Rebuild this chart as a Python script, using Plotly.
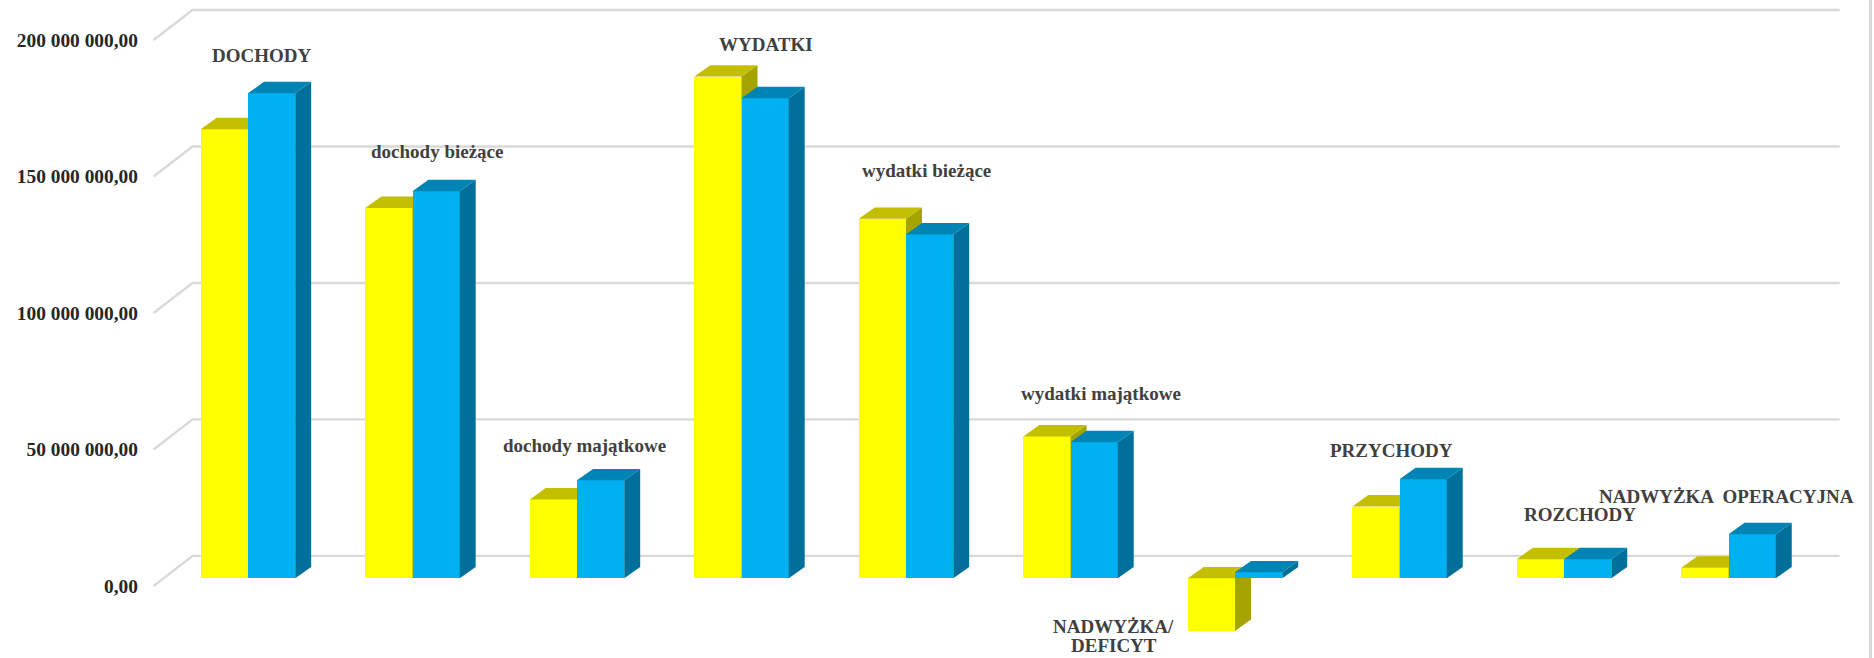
import plotly.graph_objects as go

categories = ["DOCHODY", "dochody bieżące", "dochody majątkowe", "WYDATKI", "wydatki bieżące",
              "wydatki majątkowe", "NADWYŻKA/<br>DEFICYT", "PRZYCHODY", "ROZCHODY", "NADWYŻKA  OPERACYJNA"]
plan = [164.5e6, 135.7e6, 28.9e6, 183.8e6, 131.7e6, 52.0e6, -19.3e6, 26.3e6, 7.0e6, 3.9e6]
wykonanie = [177.7e6, 141.8e6, 35.9e6, 175.9e6, 126.0e6, 49.9e6, 2.2e6, 36.3e6, 7.0e6, 16.2e6]
tick_values = [0, 50e6, 100e6, 150e6, 200e6]
tick_labels = ["0,00", "50 000 000,00", "100 000 000,00", "150 000 000,00", "200 000 000,00"]

label_x = [0.087, 1.147, 2.047, 3.151, 4.123, 5.184, 5.263, 6.951, 8.098, 8.988]
label_y = [194.5e6, 159.1e6, 51.4e6, 198.5e6, 152.1e6, 70.6e6, -15.0e6, 49.6e6, 26.0e6, 32.6e6]
LINE_STEP = 6.8e6
LABEL_SIZE = 19

BAR_W = 0.287
BAR_DX, BAR_DY = 0.097, 4.2e6
BAR_LIFT = 2.78e6
WALL_X0, WALL_X1, WALL_RIGHT = -0.574, -0.337, 9.675
WALL_DY = 11e6
X_RANGE = [-0.620, 9.884]
Y_RANGE = [-26.4e6, 214.65e6]
MARGIN_L = 146
TEXT = "#404040"
FONT = "Liberation Serif"


def polygons(items):
    xs, ys = [], []
    for poly in items:
        xs += [p[0] for p in poly] + [poly[0][0], None]
        ys += [p[1] for p in poly] + [poly[0][1], None]
    return xs, ys


def faces(values, offset):
    tops, sides = [], []
    for i, v in enumerate(values):
        x0 = i + offset
        x1 = x0 + BAR_W
        base = BAR_LIFT
        top = base + max(v, 0)
        low = base + min(v, 0)
        tops.append([(x0, top), (x1, top), (x1 + BAR_DX, top + BAR_DY), (x0 + BAR_DX, top + BAR_DY)])
        sides.append([(x1, low), (x1 + BAR_DX, low + BAR_DY), (x1 + BAR_DX, top + BAR_DY), (x1, top)])
    return tops, sides


def poly_trace(items, color, xa, ya):
    xs, ys = polygons(items)
    return go.Scatter(x=xs, y=ys, mode="lines", fill="toself", fillcolor=color,
                      line=dict(width=0, color=color), hoverinfo="skip", showlegend=False,
                      xaxis=xa, yaxis=ya)


fig = go.Figure()

grid_x, grid_y = [], []
for t in tick_values:
    grid_x += [WALL_X0, WALL_X1, WALL_RIGHT, None]
    grid_y += [t, t + WALL_DY, t + WALL_DY, None]
fig.add_trace(go.Scatter(x=grid_x, y=grid_y, mode="lines", line=dict(color="#D9D9D9", width=2.4),
                         hoverinfo="skip", showlegend=False))

series = [
    (plan, -BAR_W, "#FFFF00", "#C4BE00", "#A5A300", "x2", "y2"),
    (wykonanie, 0, "#00B0F0", "#0084B4", "#00709A", "x3", "y3"),
]
for values, offset, front, top_c, side_c, xa, ya in series:
    tops, sides = faces(values, offset)
    fig.add_trace(go.Bar(x=list(range(len(values))), y=values, base=BAR_LIFT, width=BAR_W, offset=offset,
                         marker=dict(color=front, line=dict(width=0)), showlegend=False,
                         xaxis=xa, yaxis=ya))
    fig.add_trace(poly_trace(sides, side_c, xa, ya))
    fig.add_trace(poly_trace(tops, top_c, xa, ya))

for name, x, y in zip(categories, label_x, label_y):
    for n, line in enumerate(name.split("<br>")):
        fig.add_annotation(x=x, y=y - n * LINE_STEP, text=f"<b>{line}</b>", showarrow=False, xref="x3", yref="y3",
                           font=dict(family=FONT, size=LABEL_SIZE, color=TEXT), align="center")

fig.add_shape(type="line", xref="paper", yref="paper", x0=0.998, x1=0.998, y0=0, y1=1,
              line=dict(color="#D9D9D9", width=3))

hidden = dict(visible=False, range=X_RANGE, fixedrange=True)
hidden_y = dict(visible=False, range=Y_RANGE, fixedrange=True)
fig.update_layout(
    width=1874, height=658, margin=dict(l=MARGIN_L, r=0, t=0, b=0, pad=0),
    paper_bgcolor="white", plot_bgcolor="white", bargap=0, showlegend=False,
    xaxis=dict(visible=False, range=X_RANGE, fixedrange=True),
    yaxis=dict(range=Y_RANGE, tickvals=tick_values, ticktext=tick_labels, showgrid=False, zeroline=False,
               showline=False, ticks="", fixedrange=True, ticklabelstandoff=7,
               tickfont=dict(family=FONT, size=19.4, color="#262626", weight="bold")),
    xaxis2=dict(hidden, overlaying="x"), yaxis2=dict(hidden_y, overlaying="y"),
    xaxis3=dict(hidden, overlaying="x"), yaxis3=dict(hidden_y, overlaying="y"),
)

fig.write_html("out.html", config=dict(displayModeBar=False),
               post_script="document.body.style.margin='0';document.documentElement.style.overflow='hidden';")
